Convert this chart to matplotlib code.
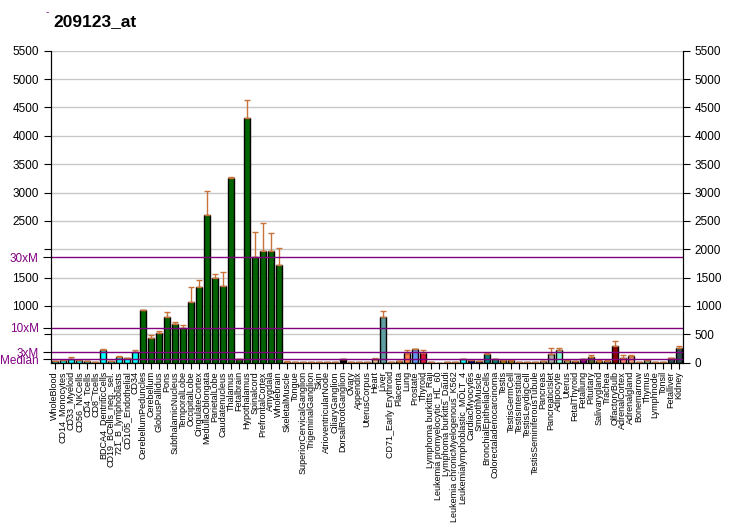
import matplotlib
matplotlib.use("Agg")
import matplotlib.pyplot as plt
import numpy as np

title = "209123_at"
categories = [
    "WholeBlood", "CD14_Monocytes", "CD33_Myeloid", "CD56_NKCells", "CD4_Tcells",
    "CD8_Tcells", "BDCA4_DentriticCells", "CD19_BCells_neg._sel.", "721_B_lymphoblasts",
    "CD105_Endothelial", "CD34", "CerebellumPeduncles", "Cerebellum", "GlobusPallidus",
    "Pons", "SubthalamicNucleus", "TemporalLobe", "OccipitalLobe", "CingulateCortex",
    "MedullaOblongata", "ParietalLobe", "Caudatenucleus", "Thalamus", "Fetalbrain",
    "Hypothalamus", "Spinalcord", "PrefrontalCortex", "Amygdala", "Wholebrain",
    "SkeletalMuscle", "Tongue", "SuperiorCervicalGanglion", "TrigeminalGanglion", "Skin",
    "AtrioventricularNode", "CiliaryGanglion", "DorsalRootGanglion", "Ovary", "Appendix",
    "UterusCorpus", "Heart", "Liver", "CD71_Early Erythroid", "Placenta", "Lung",
    "Prostate", "Thyroid", "Lymphoma burkitts_Raji", "Leukemia promyelocytic_HL_60",
    "Lymphoma burkitts_Daudi", "Leukemia chronicMyelogenous_K562",
    "Leukemialymphoblastic_MOLT_4", "CardiacMyocytes", "SmoothMuscle",
    "BronchialEpithelialCells", "Colorectaladenocarcinoma", "Testis", "TestisGermCell",
    "TestisInterstitial", "TestisLeydigCell", "TestisSeminiferousTubule", "Pancreas",
    "PancreaticIslet", "Adipocyte", "Uterus", "FetalThyroid", "Fetallung", "Pituitary",
    "Salivarygland", "Trachea", "OlfactoryBulb", "AdrenalCortex", "Adrenalgland",
    "Bonemarrow", "Thymus", "Lymphnode", "Tonsil", "Fetalliver", "Kidney",
]
values = [
    30, 47, 65, 47, 30, 12, 223, 24, 100, 76, 182,
    928, 435, 523, 805, 682, 605, 1069, 1334, 2597, 1493, 1352, 3255, 65, 4313,
    1863, 1969, 1969, 1722,
    18, 12, 5, 12, 8, 10, 12, 59, 12, 10, 8, 70, 799, 12, 24, 165, 235, 176,
    12, 2, 10, 10, 59, 47, 30, 153, 59, 47, 47, 12, 10, 10, 24, 153, 223, 47,
    24, 59, 100, 24, 24, 294, 82, 117, 12, 47, 12, 10, 82, 258,
]
errors = [
    5, 3, 29, 8, 2, 6, 12, 8, 15, 5, 35,
    8, 47, 29, 82, 29, 53, 259, 123, 423, 64, 240, 10, 0, 317,
    435, 493, 317, 294,
    8, 0, 10, 0, 12, 0, 0, 0, 0, 0, 12, 15, 106, 0, 8, 52, 0, 41,
    0, 0, 0, 0, 12, 0, 0, 10, 0, 0, 0, 0, 10, 10, 0, 100, 30, 0,
    0, 0, 29, 20, 20, 88, 47, 12, 6, 0, 0, 0, 0, 30,
]
colors = (
    ["#00FFFF"] * 11 + ["#006400"] * 18 +
    ["#1a1a1a", "#1a1a1a", "#d2691e", "#1a1a1a", "#d2691e", "#1a1a1a", "#1a1a1a",
     "#000000", "#1a1a1a", "#1a1a1a", "#d2691e", "#DEB887", "#5F9EA0", "#1a1a1a",
     "#FF8C00", "#FF7F50", "#6495ED", "#DC143C", "#1a1a1a", "#1a1a1a", "#1a1a1a",
     "#1a1a1a", "#00FFFF", "#000080", "#00008B", "#008080", "#008080", "#B8860B",
     "#B8860B", "#1a1a1a", "#d2691e", "#d2691e", "#C0C0C0", "#A9A9A9", "#7FFFD4",
     "#BDB76B", "#800080", "#8B008B", "#556B2F", "#FF8C00", "#9370DB", "#8B0000",
     "#FA8072", "#E9967A", "#d2691e", "#8FBC8F", "#1a1a1a", "#1a1a1a", "#2F4F4F",
     "#2F4F4F"]
)
median = 62
left_ticks = [median, 3 * median, 500, 10 * median, 1000, 1500, 2000, 30 * median,
              2500, 3000, 3500, 4000, 4500, 5000, 5500]
left_labels = ["Median", "3xM", "", "10xM", "1000", "1500", "", "30xM",
               "2500", "3000", "3500", "4000", "4500", "5000", "5500"]
right_ticks = list(range(0, 5501, 500))

plt.rcParams["font.family"] = ["Liberation Sans", "DejaVu Sans"]
fig = plt.figure(figsize=(7.32, 5.30), dpi=100)
ax = fig.add_axes([50.7 / 732, 1 - 362.7 / 530, (683 - 50.7) / 732, (362.7 - 50.7) / 530])
n = len(categories)
x = np.arange(n)
ax.set_xlim(-0.5, n - 0.5)
ax.set_ylim(0, 5500)

for g in range(500, 5501, 500):
    ax.axhline(g, color="#c8c8c8", lw=1, zorder=0)
for m in [median, 3 * median, 10 * median, 30 * median]:
    ax.axhline(m, color="#800080", lw=1, zorder=3)

ax.bar(x, values, width=0.8, color=colors, edgecolor="black", linewidth=1, zorder=2)
ax.errorbar(x, values, yerr=[np.zeros(n), errors], fmt="none", ecolor="#C8733A",
            elinewidth=1, capsize=2.5, capthick=1, zorder=2.5)

ax.set_xticks(x)
ax.set_xticklabels(categories, rotation=90, fontsize=6.5)
ax.tick_params(axis="x", length=4, pad=2)
ax.set_yticks(left_ticks)
ax.set_yticklabels(left_labels, fontsize=8.5)
ax.tick_params(axis="y", length=5)
for t, lab in zip(ax.yaxis.get_major_ticks(), left_labels):
    if "M" in lab or lab == "Median":
        t.label1.set_color("#800080")
        t.tick1line.set_color("#800080")
        t.tick1line.set_markersize(6)
ax.spines["top"].set_visible(False)

ax2 = ax.twinx()
ax2.set_ylim(0, 5500)
ax2.set_yticks(right_ticks)
ax2.set_yticklabels([str(v) for v in right_ticks], fontsize=8.5)
ax2.tick_params(axis="y", length=5)
ax2.spines["top"].set_visible(False)

fig.text(53 / 732, 1 - 22 / 530, title, fontsize=12.5, fontweight="bold", va="center", ha="left")
fig.text(47 / 732, 1 - 12 / 530, "-", fontsize=7, color="#800080", va="center", ha="center")

fig.savefig("out.png", dpi=100)
